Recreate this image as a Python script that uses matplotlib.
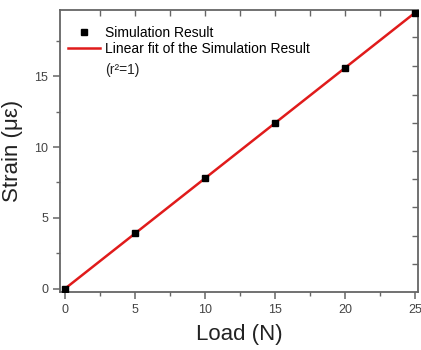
import matplotlib
matplotlib.use("Agg")
import matplotlib.pyplot as plt
from matplotlib.lines import Line2D
import numpy as np

load = [0, 5, 10, 15, 20, 25]
strain = [0.0, 3.9, 7.8, 11.7, 15.6, 19.5]
x_ticks = [0, 5, 10, 15, 20, 25]
y_ticks = [0, 5, 10, 15]
right_ticks = [1.75, 3.75, 5.75, 7.75, 9.7, 11.7, 13.7, 15.75, 17.8]

plt.rcParams['font.family'] = ['Liberation Sans', 'DejaVu Sans']

fig = plt.figure(figsize=(4.21, 3.5), dpi=100)
ax = fig.add_axes([0.1425, 0.166, 0.8505, 0.8055])

# linear fit
coef = np.polyfit(load, strain, 1)
xf = np.array([min(load), max(load)])
ax.plot(xf, np.polyval(coef, xf), color='#e01b1b', lw=1.8, zorder=2)
ax.plot(load, strain, 's', color='black', ms=5, zorder=3)

ax.set_xlim(-0.36, 25.2)
ax.set_ylim(-0.23, 19.68)
ax.set_xticks(x_ticks)
ax.set_yticks(y_ticks)
ax.set_xticks(np.arange(2.5, 25, 5), minor=True)
ax.set_yticks(np.arange(2.5, 19, 5), minor=True)

gray = '#666666'
for s in ax.spines.values():
    s.set_color(gray)
    s.set_linewidth(1.3)

ax.tick_params(which='major', direction='out', length=5, width=1.1, color=gray,
               labelsize=9, labelcolor='#444444')
ax.tick_params(which='minor', direction='out', length=3, width=1.0, color=gray)

# top ticks (inward)
axt = ax.secondary_xaxis('top')
axt.set_xticks(np.arange(2.5, 25, 2.5))
axt.tick_params(direction='in', length=4, width=1.0, color=gray, labeltop=False)
axt.spines['top'].set_visible(False)

# right ticks (inward)
axr = ax.secondary_yaxis('right')
axr.set_yticks(right_ticks)
axr.tick_params(direction='in', length=4, width=1.0, color=gray, labelright=False)
axr.spines['right'].set_visible(False)

ax.set_xlabel('Load (N)', fontsize=16, color='#222222', labelpad=6)
ax.set_ylabel('Strain (με)', fontsize=16, color='#222222', labelpad=8)

handles = [Line2D([], [], marker='s', ls='none', color='black', ms=5),
           Line2D([], [], color='#e01b1b', lw=1.8)]
leg = ax.legend(handles, ['Simulation Result', 'Linear fit of the Simulation Result'],
                loc='upper left', bbox_to_anchor=(0.007, 0.963), frameon=False,
                fontsize=10, handlelength=2.3, handletextpad=0.36,
                labelspacing=0.15, borderaxespad=0.0)
ax.text(0.1257, 0.787, '(r²=1)', transform=ax.transAxes, fontsize=10,
        color='#222222', va='center', ha='left')

fig.savefig('out.png', dpi=100)
